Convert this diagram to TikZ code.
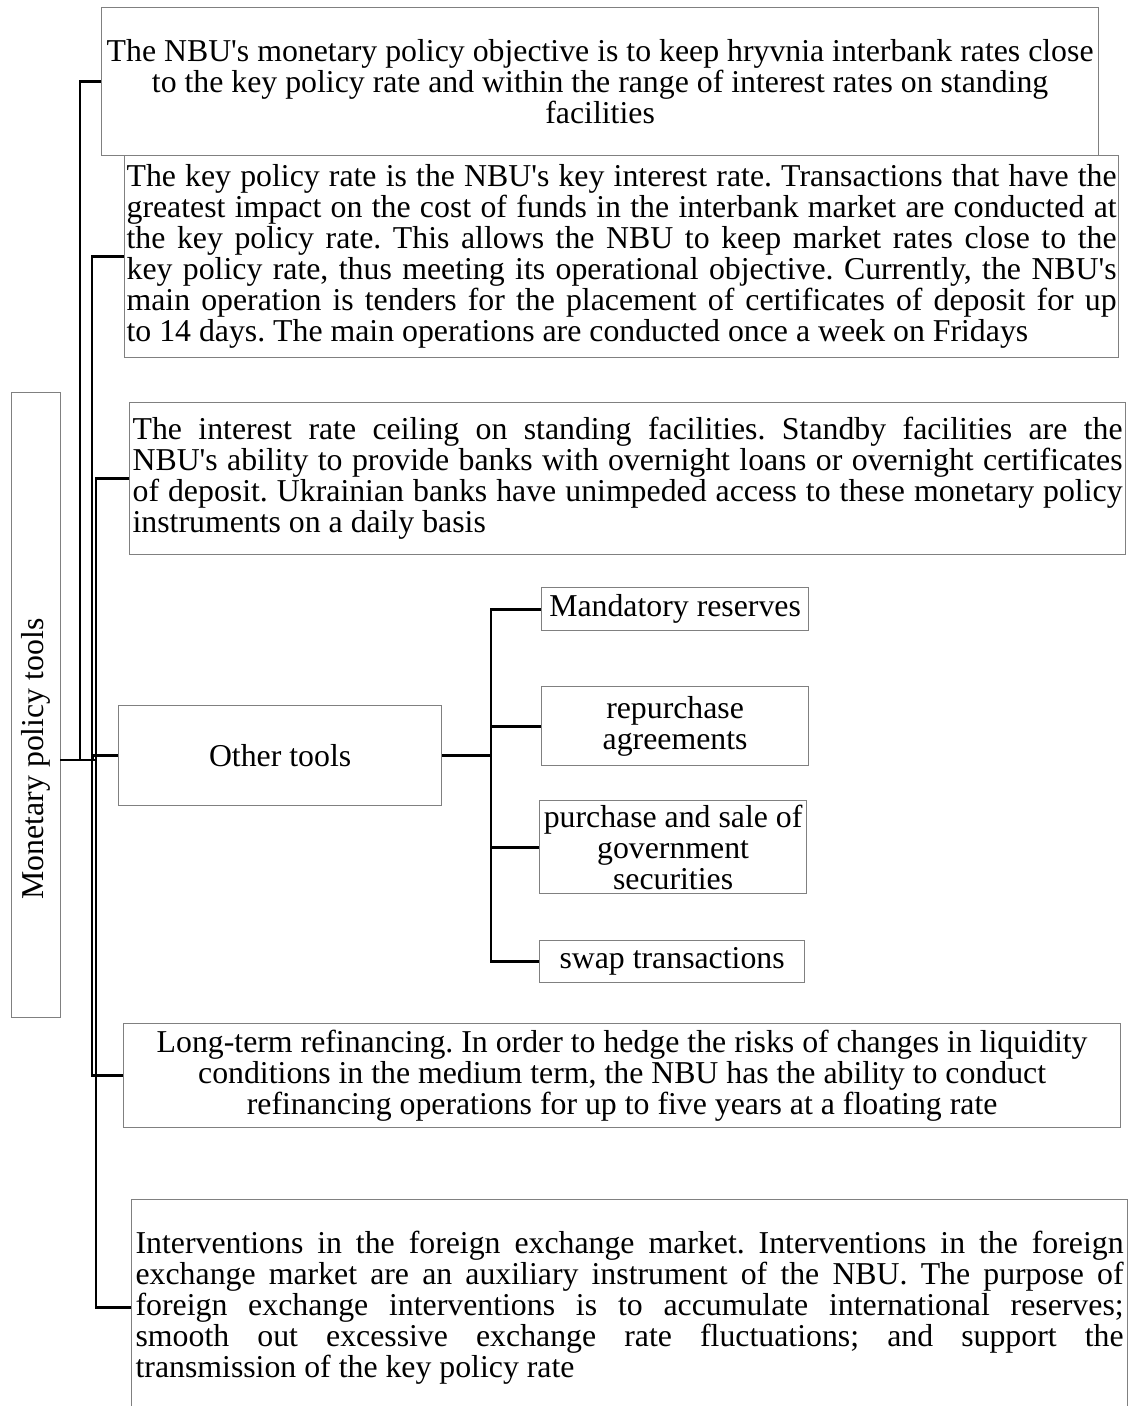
\documentclass[tikz,border=0pt]{standalone}
\usepackage{fontspec}
\setmainfont{Liberation Serif}
\newcommand\q{\textquotesingle}
\frenchspacing
\begin{document}
\begin{tikzpicture}[x=1pt,y=-1pt,
  box/.style={draw={rgb,255:red,128;green,128;blue,128}, line width=1.2pt, fill=white,
    inner sep=0pt, anchor=north west, font=\fontsize{31.8}{31}\selectfont},
  jbox/.style={box, align=justify},
  cbox/.style={box, align=center},
  conn/.style={line width=2.8pt, black}]
\useasboundingbox (0,0) rectangle (1130,1406);
\hyphenpenalty=10000
% main
\node[box, minimum width=49pt, minimum height=625pt] (main) at (11,392) {};
\node[font=\fontsize{31.8}{31}\selectfont, rotate=90, inner sep=0pt] (maintext) at (36,759) {Monetary policy tools};
\coordinate (mo) at (60,760);
% children
\node[cbox, minimum width=997pt, minimum height=148pt] (top) at (101,7)
  {The NBU\q s monetary policy objective is to keep hryvnia interbank rates close\\
   to the key policy rate and within the range of interest rates on standing\\
   facilities};
\node[jbox, text width=990pt, minimum width=994pt, minimum height=202pt] (key) at (124,155)
  {The key policy rate is the NBU\q s key interest rate. Transactions that have the\linebreak
   greatest impact on the cost of funds in the interbank market are conducted at\linebreak
   the key policy rate. This allows the NBU to keep market rates close to the\linebreak
   key policy rate, thus meeting its operational objective. Currently, the NBU\q s\linebreak
   main operation is tenders for the placement of certificates of deposit for up\linebreak
   to 14 days. The main operations are conducted once a week on Fridays};
\node[jbox, text width=990pt, minimum width=996pt, minimum height=152pt] (ceil) at (129,402)
  {The interest rate ceiling on standing facilities. Standby facilities are the\linebreak
   NBU\q s ability to provide banks with overnight loans or overnight certificates\linebreak
   of deposit. Ukrainian banks have unimpeded access to these monetary policy\linebreak
   instruments on a daily basis};
\node[cbox, minimum width=323pt, minimum height=100pt] (other) at (118,705) {Other tools};
\node[cbox, minimum width=267pt, minimum height=43pt] (mand) at (541,587) {Mandatory reserves};
\node[cbox, minimum width=267pt, minimum height=79pt] (repo) at (541,686) {repurchase\\agreements};
\node[cbox, minimum width=267pt, minimum height=93pt] (purch) at (539,800) {purchase and sale of\\government\\securities};
\node[cbox, minimum width=265pt, minimum height=42pt] (swap) at (539,940) {swap transactions};
\node[cbox, minimum width=997pt, minimum height=104pt] (long) at (123,1023)
  {Long-term refinancing. In order to hedge the risks of changes in liquidity\\
   conditions in the medium term, the NBU has the ability to conduct\\
   refinancing operations for up to five years at a floating rate};
\node[jbox, text width=988pt, minimum width=996pt, minimum height=216pt] (interv) at (131,1199)
  {Interventions in the foreign exchange market. Interventions in the foreign\linebreak
   exchange market are an auxiliary instrument of the NBU. The purpose of\linebreak
   foreign exchange interventions is to accumulate international reserves;\linebreak
   smooth out excessive exchange rate fluctuations; and support the\linebreak
   transmission of the key policy rate};
% connectors
\draw[conn] (mo) -| ([xshift=-21pt]top.west) -- (top.west);
\draw[conn] (mo) -| ([xshift=-32pt]key.west) -- (key.west);
\draw[conn] (mo) -| ([xshift=-33pt]ceil.west) -- (ceil.west);
\draw[conn] (mo) -| ([xshift=-25pt]other.west) -- (other.west);
\draw[conn] (mo) -| ([xshift=-31pt]long.west) -- (long.west);
\draw[conn] (mo) -| ([xshift=-35pt]interv.west) -- (interv.west);
\draw[conn] (other.east) -| ([xshift=-50pt]mand.west) -- (mand.west);
\draw[conn] (other.east) -| ([xshift=-50pt]repo.west) -- (repo.west);
\draw[conn] (other.east) -| ([xshift=-48pt]purch.west) -- (purch.west);
\draw[conn] (other.east) -| ([xshift=-48pt]swap.west) -- (swap.west);
\end{tikzpicture}
\end{document}
